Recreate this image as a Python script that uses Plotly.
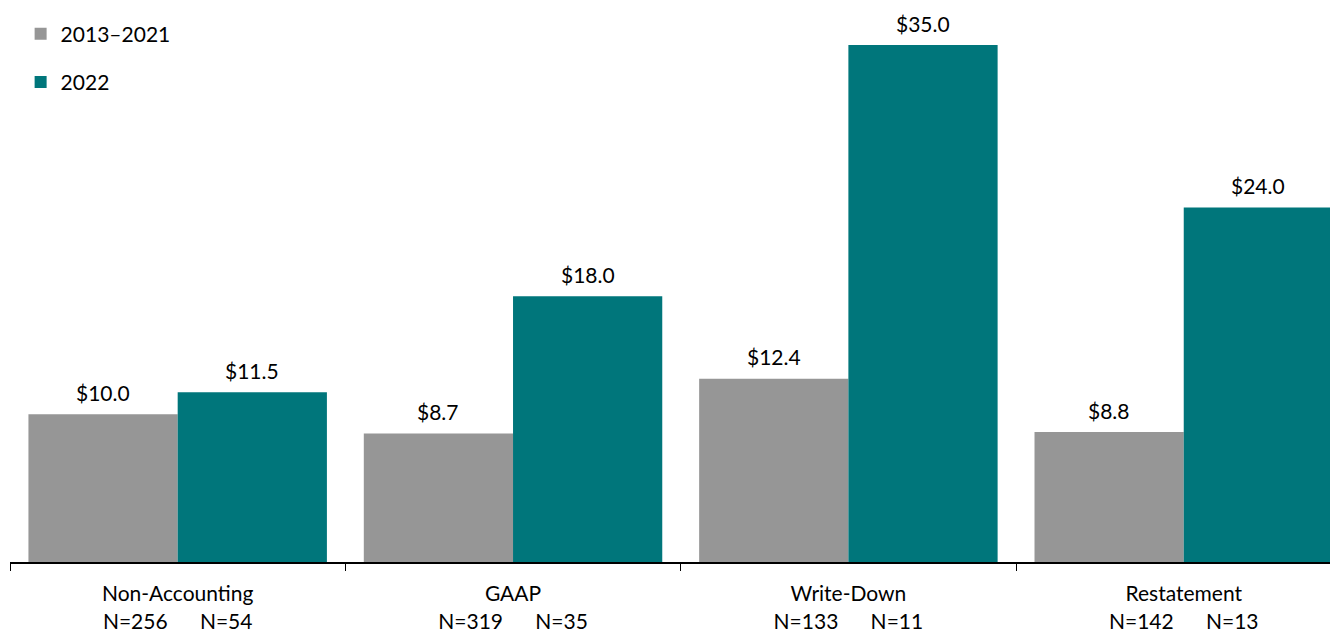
import plotly.graph_objects as go

categories = ["Non-Accounting", "GAAP", "Write-Down", "Restatement"]
n_2013_2021 = [256, 319, 133, 142]
n_2022 = [54, 35, 11, 13]
vals_2013_2021 = [10.0, 8.7, 12.4, 8.8]
vals_2022 = [11.5, 18.0, 35.0, 24.0]
series_names = ["2013\u20132021", "2022"]

tick_text = [f"{c}<br>N={a}      N={b}" for c, a, b in zip(categories, n_2013_2021, n_2022)]

FONT = "Lato, 'Open Sans', sans-serif"
GRAY = "#969696"
TEAL = "#00767B"

W, H = 1330, 625
ML, MR, MT, MB = 2, 0, 10, 71
X_RANGE = [-0.5, 3.46]
BARGAP = 0.11
plot_w = W - ML - MR
px_per_cat = plot_w / (X_RANGE[1] - X_RANGE[0])
bar_w = (1 - BARGAP) / 2

fig = go.Figure()
fig.add_trace(go.Bar(
    x=categories, y=vals_2013_2021, name=series_names[0],
    marker=dict(color=GRAY, line=dict(width=0)),
    legendgroup="a",
))
fig.add_trace(go.Bar(
    x=categories, y=vals_2022, name=series_names[1],
    marker=dict(color=TEAL, line=dict(width=0)),
    legendgroup="b",
))

annotations = []
for vals, sign in ((vals_2013_2021, -1), (vals_2022, 1)):
    for c, v in zip(categories, vals):
        annotations.append(dict(
            x=c, y=v, xref="x", yref="y", text=f"${v:.1f}",
            showarrow=False, xanchor="center", yanchor="middle",
            xshift=sign * bar_w / 2 * px_per_cat, yshift=22,
            font=dict(size=21, family=FONT, color="#000000"),
        ))

fig.update_layout(
    width=W, height=H,
    margin=dict(l=ML, r=MR, t=MT, b=MB),
    paper_bgcolor="white", plot_bgcolor="white",
    barmode="group", bargap=BARGAP, bargroupgap=0,
    font=dict(family=FONT, size=21, color="#000000"),
    showlegend=True,
    legend=dict(x=0.008, y=1.008, xanchor="left", yanchor="top",
                orientation="v", tracegroupgap=18,
                font=dict(size=21, family=FONT),
                bgcolor="rgba(0,0,0,0)", itemwidth=30),
    annotations=annotations,
    xaxis=dict(
        tickmode="array", tickvals=categories, ticktext=tick_text,
        range=X_RANGE, tickson="boundaries",
        ticks="outside", ticklen=7, tickcolor="#000000", tickwidth=1.3,
        showline=True, linecolor="#000000", linewidth=2,
        showgrid=False, zeroline=False, ticklabelstandoff=12,
        tickfont=dict(size=21, family=FONT),
    ),
    yaxis=dict(
        range=[0, 36.83], visible=False, showgrid=False, zeroline=False,
    ),
)

fig.write_html("out.html")
